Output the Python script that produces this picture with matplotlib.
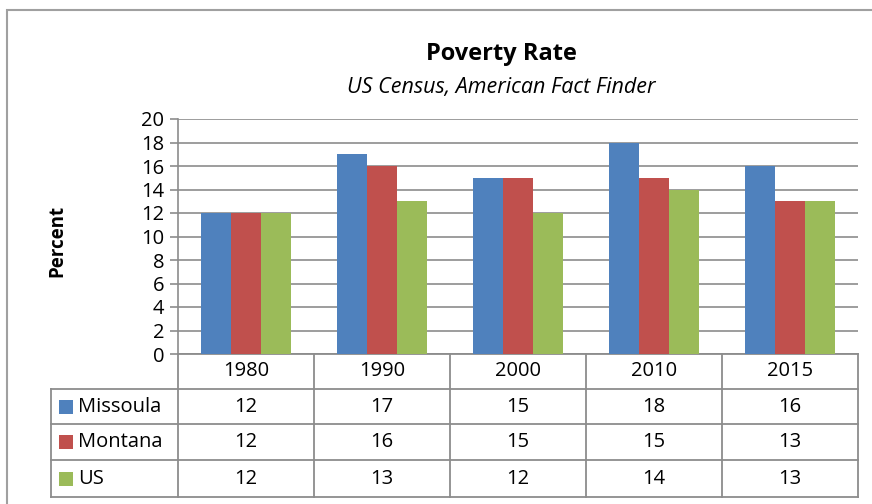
import matplotlib
matplotlib.use("Agg")

import matplotlib.pyplot as plt
import matplotlib.transforms as mtransforms
from matplotlib.patches import Rectangle

years = ["1980", "1990", "2000", "2010", "2015"]
series_names = ["Missoula", "Montana", "US"]
missoula = [12, 17, 15, 18, 16]
montana = [12, 16, 15, 15, 13]
us = [12, 13, 12, 14, 13]
series_colors = ["#4F81BD", "#C0504D", "#9BBB59"]

title = "Poverty Rate"
subtitle = "US Census, American Fact Finder"
y_label = "Percent"
y_ticks = list(range(0, 21, 2))

plt.rcParams["font.family"] = ["Open Sans", "DejaVu Sans"]

W, H = 872, 504
figure = plt.figure(figsize=(W / 100, H / 100), dpi=100)

# plot area in pixels
left_px, right_px, top_px, bottom_px = 178, 858, 119, 354
axes = figure.add_axes([
    left_px / W,
    (H - bottom_px) / H,
    (right_px - left_px) / W,
    (bottom_px - top_px) / H,
])

grid_color = "#8C8C8C"
all_series = [missoula, montana, us]
bar_width = 1 / 4.5
for index, (name, values, color) in enumerate(zip(series_names, all_series, series_colors)):
    positions = [i + (index - 1) * bar_width for i in range(len(years))]
    axes.bar(positions, values, width=bar_width, color=color, label=name, zorder=3)

axes.set_xlim(-0.5, len(years) - 0.5)
axes.set_ylim(0, 20)
axes.set_yticks(y_ticks)
axes.set_yticklabels([str(t) for t in y_ticks], fontsize=14.5)
axes.set_xticks([])
axes.yaxis.grid(True, color=grid_color, linewidth=1.2, zorder=0)
axes.tick_params(axis="y", length=6, color=grid_color, width=1.2, pad=4)
for side in ["top", "right", "bottom"]:
    axes.spines[side].set_visible(False)
axes.spines["left"].set_color(grid_color)
axes.spines["left"].set_linewidth(1.2)

# title texts and y label
figure.text(501 / W, 1 - 54 / H, title, ha="center", va="center",
            fontsize=17, fontweight="bold")
figure.text(501 / W, 1 - 87 / H, subtitle, ha="center", va="center",
            fontsize=15.5, style="italic")
figure.text(57 / W, 1 - 241 / H, y_label, ha="center", va="center",
            rotation=90, fontsize=13.5, fontweight="bold")

# data table below the plot
blend = mtransforms.blended_transform_factory(axes.transData, axes.transAxes)
plot_height = bottom_px - top_px
row_edges_px = [354, 389, 424, 460, 497]
row_edges = [(bottom_px - y) / plot_height for y in row_edges_px]
legend_left = -0.5 - (left_px - 51) / 136

line_style = dict(color=grid_color, linewidth=1.3, transform=blend, clip_on=False)
# column lines across the header and body
for i in range(len(years) + 1):
    axes.plot([i - 0.5, i - 0.5], [row_edges[0], row_edges[-1]], **line_style)
axes.plot([legend_left, legend_left], [row_edges[1], row_edges[-1]], **line_style)
# horizontal lines
axes.plot([-0.5, len(years) - 0.5], [row_edges[0], row_edges[0]], **line_style)
for edge in row_edges[1:]:
    axes.plot([legend_left, len(years) - 0.5], [edge, edge], **line_style)

table_size = 14.5
header_y = (row_edges[0] + row_edges[1]) / 2
for i, year in enumerate(years):
    axes.text(i, header_y, year, transform=blend, ha="center", va="center",
              fontsize=table_size)

for row, (name, values, color) in enumerate(zip(series_names, all_series, series_colors)):
    center_y = (row_edges[row + 1] + row_edges[row + 2]) / 2
    for i, value in enumerate(values):
        axes.text(i, center_y, str(value), transform=blend, ha="center",
                  va="center", fontsize=table_size)
    center_px = (row_edges_px[row + 1] + row_edges_px[row + 2]) / 2
    figure.patches.append(Rectangle((59 / W, 1 - (center_px + 7) / H), 14 / W, 14 / H,
                                    facecolor=color, edgecolor="none",
                                    transform=figure.transFigure))
    figure.text(78 / W, 1 - center_px / H, name, ha="left", va="center",
                fontsize=table_size)

# outer chart border, cut by the picture edges
figure.patches.append(Rectangle((7 / W, -0.1), 1.1, 1 - 10 / H + 0.1,
                                facecolor="none", edgecolor="#A0A0A0",
                                linewidth=1.5, transform=figure.transFigure))

figure.savefig("out.png", dpi=100)
